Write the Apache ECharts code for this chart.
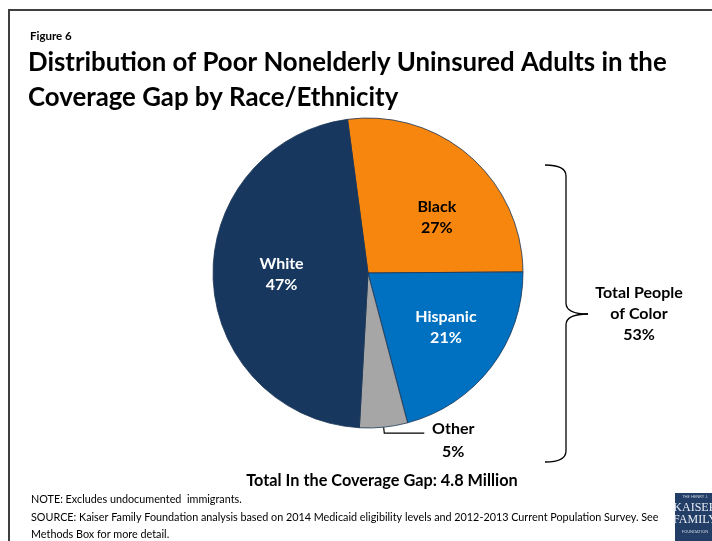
<!DOCTYPE html>
<html><head><meta charset="utf-8">
<script src="https://cdn.jsdelivr.net/npm/echarts@6/dist/echarts.min.js"></script>
<style>html,body{margin:0;padding:0;background:#fff}#c{width:712px;height:541px}</style>
</head><body><div id="c"></div>
<script>
const categories = ['Black', 'Hispanic', 'Other', 'White'];
const values = [27, 21, 5, 47];
const colors = ['#F7860F', '#0070C0', '#A6A6A6', '#17375E'];
const labelColors = ['#000000', '#ffffff', '#000000', '#ffffff'];
const labelOffsets = [[16, 5], [14, 5], [0, 0], [-6, -2]];
const F = 'Lato, "Noto Sans", sans-serif';

const chart = echarts.init(document.getElementById('c'));
const data = categories.map((c, i) => {
  const d = {
    name: c, value: values[i],
    itemStyle: { color: colors[i] },
    label: { color: labelColors[i], offset: labelOffsets[i] }
  };
  if (c === 'Other') {
    d.label = {
      position: 'outside', color: '#000',
      formatter: '{a|{b}}\n{a|{d}%}',
      padding: [14, 0, 0, 0],
      rich: { a: { fontFamily: F, fontWeight: 'bold', fontSize: 16, lineHeight: 23, width: 48, align: 'center', color: '#000' } }
    };
    d.labelLine = { show: true, length: 6, length2: 40, lineStyle: { color: '#000', width: 1.2 } };
  }
  return d;
});

const bl = { stroke: '#000', lineWidth: 1.3, fill: null };
chart.setOption({
  animation: false,
  backgroundColor: '#fff',
  title: [
    { text: 'Figure 6', left: 25, top: 25, textStyle: { fontFamily: F, fontWeight: 'bold', fontSize: 11.5, color: '#000' } },
    { text: 'Distribution of Poor Nonelderly Uninsured Adults in the\nCoverage Gap by Race/Ethnicity', left: 23, top: 40,
      textStyle: { fontFamily: F, fontWeight: 'bold', fontSize: 25.8, lineHeight: 35, color: '#000' } },
    { text: 'Total In the Coverage Gap: 4.8 Million', left: 377, top: 468, textAlign: 'center',
      textStyle: { fontFamily: F, fontWeight: 'bold', fontSize: 16.3, color: '#000' } },
    { text: 'NOTE: Excludes undocumented  immigrants.\nSOURCE: Kaiser Family Foundation analysis based on 2014 Medicaid eligibility levels and 2012-2013 Current Population Survey. See\nMethods Box for more detail.',
      left: 26, top: 486, textStyle: { fontFamily: F, fontWeight: 'normal', fontSize: 10.8, lineHeight: 17.5, color: '#000' } }
  ],
  series: [{
    type: 'pie',
    center: [368, 273],
    radius: 155,
    startAngle: 97.6,
    clockwise: true,
    data: data,
    itemStyle: { borderColor: '#1B3556', borderWidth: 0.8 },
    label: {
      position: 'inside', formatter: '{b}\n{d}%',
      fontFamily: F, fontWeight: 'bold', fontSize: 16, lineHeight: 21
    },
    labelLine: { show: false },
    emphasis: { disabled: true }
  }],
  graphic: [
    { type: 'polyline', shape: { points: [[9, 541], [9, 10], [712, 10]] }, style: { stroke: '#3f3f3f', lineWidth: 2, fill: null } },
    { type: 'bezierCurve', shape: { x1: 545, y1: 165, cpx1: 566, cpy1: 165, x2: 566, y2: 176 }, style: bl },
    { type: 'line', shape: { x1: 566, y1: 176, x2: 566, y2: 303 }, style: bl },
    { type: 'bezierCurve', shape: { x1: 566, y1: 303, cpx1: 566, cpy1: 314, x2: 588, y2: 314 }, style: bl },
    { type: 'bezierCurve', shape: { x1: 588, y1: 314, cpx1: 566, cpy1: 314, x2: 566, y2: 325 }, style: bl },
    { type: 'line', shape: { x1: 566, y1: 325, x2: 566, y2: 451 }, style: bl },
    { type: 'bezierCurve', shape: { x1: 566, y1: 451, cpx1: 566, cpy1: 462, x2: 545, y2: 462 }, style: bl },
    { type: 'text', x: 639, y: 282, style: { text: 'Total People\nof Color\n53%', font: 'bold 16px ' + F, lineHeight: 21, fill: '#000', align: 'center' } },
    { type: 'rect', shape: { x: 675, y: 493, width: 40, height: 48 }, style: { fill: '#223d66' } },
    { type: 'text', x: 695, y: 495, style: { text: 'THE HENRY J.', font: '4px ' + F, fill: '#c9d2e0', align: 'center' } },
    { type: 'text', x: 695, y: 502, style: { text: 'KAISER', font: '12px "Liberation Serif", serif', fill: '#e8edf5', align: 'center' } },
    { type: 'text', x: 695, y: 514, style: { text: 'FAMILY', font: '12px "Liberation Serif", serif', fill: '#e8edf5', align: 'center' } },
    { type: 'text', x: 695, y: 530, style: { text: 'FOUNDATION', font: '4px ' + F, fill: '#c9d2e0', align: 'center' } }
  ]
});
</script></body></html>
